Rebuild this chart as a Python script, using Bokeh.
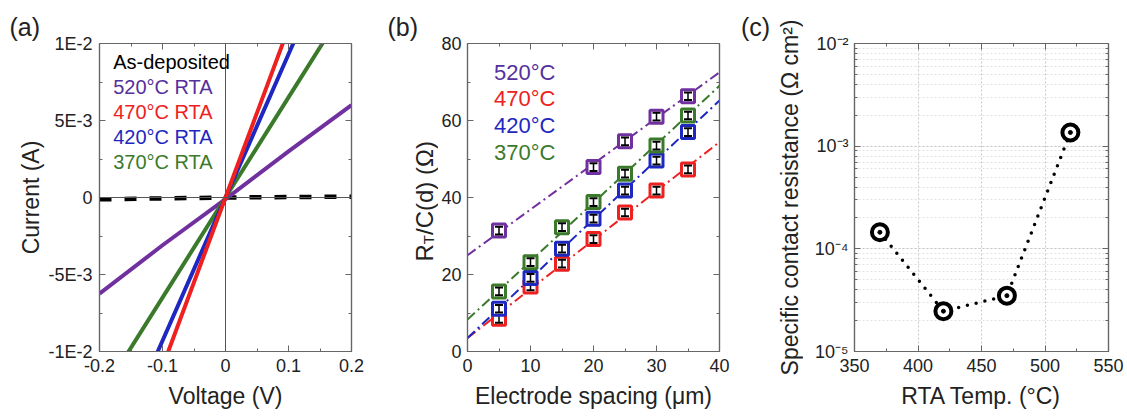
import math
from bokeh.plotting import figure
from bokeh.layouts import row
from bokeh.models import (LinearAxis, LogAxis, FixedTicker, LogTicker, Label, Span, Title,
                          CustomJSTickFormatter, Range1d)
from bokeh.embed import file_html
from bokeh.resources import INLINE

FONT = "Liberation Sans"
AX = "#666666"
TXT = "#222222"

# ---------------- data: panel (a) I-V ----------------
voltage = [-0.2, -0.1, 0.0, 0.1, 0.2]
i_asdep = [-0.00012, -0.00006, 0.0, 0.00003, 0.00005]
i_520 = [-0.00625, -0.0031, -0.0001, 0.0030, 0.0060]
i_470 = [-0.0220, -0.0110, 0.0, 0.0110, 0.0220]
i_420 = [-0.0186, -0.0093, 0.0, 0.0093, 0.0186]
i_370 = [-0.0130, -0.0065, 0.0, 0.0065, 0.0130]
a_xticks = [-0.2, -0.1, 0.0, 0.1, 0.2]
a_xlabels = ["-0.2", "-0.1", "0", "0.1", "0.2"]
a_yticks = [-0.01, -0.005, 0.0, 0.005, 0.01]
a_ylabels = ["-1E-2", "-5E-3", "0", "5E-3", "1E-2"]
a_legend = ["As-deposited", "520°C RTA", "470°C RTA", "420°C RTA", "370°C RTA"]

# ---------------- data: panel (b) TLM ----------------
spacing_520 = [5, 20, 25, 30, 35]
r_520 = [31.4, 47.9, 54.6, 61.0, 66.3]
spacing = [5, 10, 15, 20, 25, 30, 35]
r_470 = [8.5, 16.9, 22.8, 29.2, 36.1, 41.8, 47.3]
r_420 = [11.1, 19.1, 26.7, 34.5, 41.8, 49.6, 57.0]
r_370 = [15.6, 23.2, 32.3, 38.8, 46.2, 53.5, 61.3]
err_520 = [1.0, 1.0, 1.0, 1.0, 1.0]
err_all = [1.0, 1.0, 1.0, 1.0, 1.0, 1.0, 1.0]
fit_x = [0.0, 40.0]
fit_520 = [25.0, 72.5]
fit_470 = [3.5, 54.4]
fit_420 = [3.5, 65.2]
fit_370 = [8.3, 69.0]
b_ticks_x = [0, 10, 20, 30, 40]
b_ticks_y = [0, 20, 40, 60, 80]
b_legend = ["520°C", "470°C", "420°C", "370°C"]

# ---------------- data: panel (c) contact resistance ----------------
rta_temp = [370, 420, 470, 520]
rho_c = [1.45e-4, 2.47e-5, 3.5e-5, 1.36e-3]
c_xticks = [350, 400, 450, 500, 550]
c_yticks = [1e-5, 1e-4, 1e-3, 1e-2]
c_ylabels = ["10⁻⁵", "10⁻⁴", "10⁻³", "10⁻²"]

C_PURPLE = "#7030a0"
C_PURPLE_T = "#55309c"
C_RED = "#ee2020"
C_BLUE = "#1e28c0"
C_GREEN = "#3b7a2b"


def lookup_formatter(tick_vals, tick_labels, log=False):
    code = """
    let best = 0;
    const f = (v) => LOG ? Math.log10(v) : v;
    for (let i = 0; i < tv.length; i++) {
        if (Math.abs(f(tv[i]) - f(tick)) < Math.abs(f(tv[best]) - f(tick))) best = i;
    }
    return tl[best];
    """.replace("LOG", "true" if log else "false")
    return CustomJSTickFormatter(args=dict(tv=tick_vals, tl=tick_labels), code=code)


def style_axis(ax, show_labels=True):
    ax.axis_line_color = AX
    ax.axis_line_width = 1.2
    ax.major_tick_line_color = AX
    ax.minor_tick_line_color = AX
    ax.major_tick_in = 6
    ax.major_tick_out = 0
    ax.minor_tick_in = 3
    ax.minor_tick_out = 0
    ax.major_label_text_font = FONT
    ax.major_label_text_font_size = "18px"
    ax.major_label_text_color = TXT
    ax.axis_label_text_font = FONT
    ax.axis_label_text_font_size = "23px"
    ax.axis_label_text_font_style = "normal"
    ax.axis_label_text_color = TXT
    if not show_labels:
        ax.formatter = CustomJSTickFormatter(code="return '';")
        ax.major_label_standoff = 0


def base_fig(width, left, right, x_range, y_range, y_type="linear"):
    p = figure(width=width, height=417, x_range=x_range, y_range=y_range,
               y_axis_type=y_type, output_backend="svg", toolbar_location=None,
               min_border_left=left, min_border_right=right,
               min_border_top=43, min_border_bottom=66)
    p.outline_line_color = AX
    p.outline_line_width = 1.2
    p.background_fill_color = "white"
    p.border_fill_color = "white"
    return p


def strip(width, left=0):
    """Narrow text-only figure; frame spans y 43..351, data units = pixels (y downwards)."""
    s = figure(width=width, height=417, x_range=Range1d(0, width - left), y_range=Range1d(351, 43),
               output_backend="svg", toolbar_location=None,
               min_border_left=left, min_border_right=0, min_border_top=43, min_border_bottom=66,
               x_axis_location=None, y_axis_location=None)
    s.outline_line_color = None
    s.xgrid.visible = False
    s.ygrid.visible = False
    s.background_fill_color = "white"
    s.border_fill_color = "white"
    return s


def txt(p, x, y, text, size, color=TXT, angle=0.0, align="center", baseline="middle"):
    p.add_layout(Label(x=x, y=y, text=text, angle=angle, text_color=color, text_font=FONT,
                       text_font_size=size, text_align=align, text_baseline=baseline))


def panel_title(p, text, offset, align="left"):
    p.add_layout(Title(text=text, align=align, offset=offset, standoff=6, text_font=FONT,
                       text_font_size="25px", text_font_style="normal", text_color=TXT), "above")


# ======================= Panel (a) =======================
sa = strip(45)
panel_title(sa, "(a)", 9)
txt(sa, 30, 197, "Current (A)", "23px", angle=math.pi / 2)

pa = base_fig(325, 53, 19, Range1d(-0.2, 0.2), Range1d(-0.01, 0.01))
pa.xgrid.visible = False
pa.ygrid.visible = False
ax_ticker = FixedTicker(ticks=a_xticks, minor_ticks=[-0.15, -0.05, 0.05, 0.15])
ay_ticker = FixedTicker(ticks=a_yticks, minor_ticks=[-0.0075, -0.0025, 0.0025, 0.0075])
pa.xaxis.ticker = ax_ticker
pa.yaxis.ticker = ay_ticker
pa.xaxis.formatter = lookup_formatter(a_xticks, a_xlabels)
pa.yaxis.formatter = lookup_formatter(a_yticks, a_ylabels)
pa.xaxis.axis_label = "Voltage (V)"
for ax in pa.xaxis + pa.yaxis:
    style_axis(ax)
pa.xaxis.major_label_standoff = 7
pa.xaxis.axis_label_standoff = 8
pa.yaxis.major_label_standoff = 7
top = LinearAxis(ticker=ax_ticker)
right = LinearAxis(ticker=ay_ticker)
style_axis(top, False)
style_axis(right, False)
pa.add_layout(top, "above")
pa.add_layout(right, "right")

pa.add_layout(Span(location=0, dimension="height", line_color="#555555", line_width=1))
pa.add_layout(Span(location=0, dimension="width", line_color="#555555", line_width=1))

pa.line(voltage, i_asdep, line_color="black", line_width=4.5, line_dash="12 13")
pa.line(voltage, i_520, line_color=C_PURPLE, line_width=4)
pa.line(voltage, i_370, line_color=C_GREEN, line_width=4)
pa.line(voltage, i_420, line_color=C_BLUE, line_width=4)
pa.line(voltage, i_470, line_color=C_RED, line_width=4)

a_leg_colors = ["black", C_PURPLE_T, C_RED, C_BLUE, C_GREEN]
a_leg_y = [0.00877, 0.00716, 0.00554, 0.00392, 0.00229]
for t, col, yy in zip(a_legend, a_leg_colors, a_leg_y):
    txt(pa, -0.1783, yy, t, "20px", color=col, align="left")

# ======================= Panel (b) =======================
sb = strip(68)
panel_title(sb, "(b)", 17)
ang = math.pi / 2
txt(sb, 54, 261, "R", "24px", angle=ang, align="left", baseline="middle")
txt(sb, 58, 243.7, "T", "15px", angle=ang, align="left", baseline="middle")
txt(sb, 54, 234.5, "/C(d) (Ω)", "24px", angle=ang, align="left", baseline="middle")

pb = base_fig(302, 28, 21, Range1d(0, 40), Range1d(0, 80))
pb.xgrid.visible = False
pb.ygrid.visible = False
bx_ticker = FixedTicker(ticks=b_ticks_x, minor_ticks=[5, 15, 25, 35])
by_ticker = FixedTicker(ticks=b_ticks_y, minor_ticks=[10, 30, 50, 70])
pb.xaxis.ticker = bx_ticker
pb.yaxis.ticker = by_ticker
pb.xaxis.axis_label = "Electrode spacing (μm)"
for ax in pb.xaxis + pb.yaxis:
    style_axis(ax)
pb.xaxis.major_label_standoff = 7
pb.xaxis.axis_label_standoff = 8
pb.yaxis.major_label_standoff = 6
top = LinearAxis(ticker=bx_ticker)
right = LinearAxis(ticker=by_ticker)
style_axis(top, False)
style_axis(right, False)
pb.add_layout(top, "above")
pb.add_layout(right, "right")

series_b = [
    (spacing, r_470, err_all, fit_470, C_RED),
    (spacing, r_420, err_all, fit_420, C_BLUE),
    (spacing, r_370, err_all, fit_370, C_GREEN),
    (spacing_520, r_520, err_520, fit_520, C_PURPLE),
]
for xs, ys, es, fit, col in series_b:
    pb.line(fit_x, fit, line_color=col, line_width=2, line_dash="10 4 2 4")
for xs, ys, es, fit, col in series_b:
    lo = [y - e for y, e in zip(ys, es)]
    hi = [y + e for y, e in zip(ys, es)]
    pb.scatter(xs, ys, marker="square", size=13, fill_color="white", line_color=col, line_width=3)
    pb.segment(x0=xs, y0=lo, x1=xs, y1=hi, line_color="black", line_width=1.5)
    pb.scatter(xs, lo, marker="dash", size=8, line_color="black", line_width=2)
    pb.scatter(xs, hi, marker="dash", size=8, line_color="black", line_width=2)

b_leg_colors = [C_PURPLE_T, C_RED, C_BLUE, C_GREEN]
b_leg_y = [72.5, 65.7, 58.7, 51.7]
for t, col, yy in zip(b_legend, b_leg_colors, b_leg_y):
    txt(pb, 4.22, yy, t, "22px", color=col, align="left")

# ======================= Panel (c) =======================
sc1 = strip(30)
panel_title(sc1, "(c)", 0, align="center")
sc2 = strip(33, left=32)
sc2.add_layout(Title(text="Specific contact resistance (Ω cm²)", align="center", standoff=0,
                     text_font=FONT, text_font_size="23px", text_font_style="normal",
                     text_color=TXT), "left")

pc = base_fig(324, 51, 19, Range1d(350, 550), Range1d(1e-5, 1e-2), y_type="log")
cx_ticker = FixedTicker(ticks=c_xticks, minor_ticks=[375, 425, 475, 525])
cy_ticker = LogTicker(num_minor_ticks=10)
pc.xaxis.ticker = cx_ticker
pc.yaxis.ticker = cy_ticker
pc.yaxis.formatter = lookup_formatter(c_yticks, c_ylabels, log=True)
pc.xaxis.axis_label = "RTA Temp. (°C)"
for ax in pc.xaxis + pc.yaxis:
    style_axis(ax)
pc.xaxis.major_label_standoff = 7
pc.xaxis.axis_label_standoff = 8
pc.yaxis.major_label_standoff = 6
top = LinearAxis(ticker=cx_ticker)
right = LogAxis(ticker=cy_ticker)
style_axis(top, False)
style_axis(right, False)
pc.add_layout(top, "above")
pc.add_layout(right, "right")
pc.xgrid.grid_line_color = "#c8c8c8"
pc.xgrid.grid_line_dash = "2 2"
pc.ygrid.grid_line_color = "#c8c8c8"
pc.ygrid.grid_line_dash = "2 2"
pc.ygrid.minor_grid_line_color = "#e2e2e2"
pc.ygrid.minor_grid_line_dash = "2 2"

pc.line(rta_temp, rho_c, line_color="black", line_width=3.5, line_dash="0 9", line_cap="round")
pc.scatter(rta_temp, rho_c, marker="circle", size=16, fill_color="white",
           line_color="black", line_width=4)
pc.scatter(rta_temp, rho_c, marker="circle", size=4, fill_color="black", line_color="black")

layout = row(sa, pa, sb, pb, sc1, sc2, pc)
with open("out.html", "w", encoding="utf-8") as f:
    f.write(file_html(layout, INLINE))
